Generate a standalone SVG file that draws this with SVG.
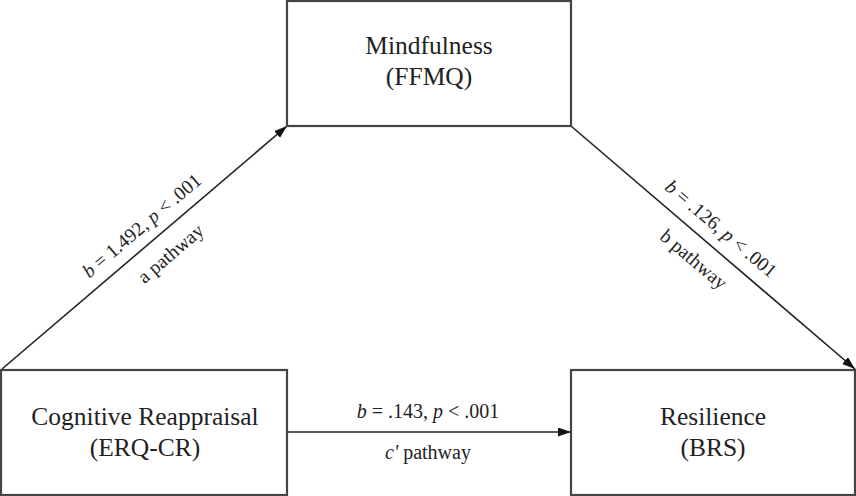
<svg xmlns="http://www.w3.org/2000/svg" width="856" height="496" viewBox="0 0 856 496">
<defs>
<marker id="ah" markerUnits="userSpaceOnUse" markerWidth="14" markerHeight="10" refX="13" refY="4.5" orient="auto">
<path d="M0,0 L13,4.5 L0,9 z" fill="#111"/>
</marker>
<style>
.box{fill:#fff;stroke:#444;stroke-width:2.2}
.lbl{font-family:"Liberation Serif","Times New Roman",serif;font-size:25.5px;fill:#222;text-anchor:middle}
.stat{font-family:"Liberation Serif","Times New Roman",serif;font-size:20px;fill:#222;text-anchor:middle}
.dstat{font-family:"Liberation Serif","Times New Roman",serif;font-size:19.5px;fill:#222;text-anchor:middle}
.con{stroke:#222;stroke-width:1.6;fill:none;marker-end:url(#ah)}
.i{font-style:italic}
</style>
</defs>
<rect width="856" height="496" fill="#fff"/>
<g id="connectors">
<line class="con" x1="2" y1="369" x2="287" y2="126"/>
<line class="con" x1="571" y1="126" x2="855" y2="369"/>
<line class="con" x1="287" y1="432" x2="571" y2="432"/>
</g>
<g id="mindfulness">
<rect class="box" x="287" y="1" width="284" height="125"/>
<text class="lbl" x="429" y="54">Mindfulness</text>
<text class="lbl" x="429" y="85">(FFMQ)</text>
</g>
<g id="cognitive-reappraisal">
<rect class="box" x="1" y="370" width="286" height="125"/>
<text class="lbl" x="145" y="425">Cognitive Reappraisal</text>
<text class="lbl" x="145" y="456">(ERQ-CR)</text>
</g>
<g id="resilience">
<rect class="box" x="571" y="370" width="284" height="125"/>
<text class="lbl" x="713" y="425">Resilience</text>
<text class="lbl" x="713" y="456">(BRS)</text>
</g>
<g id="labels">
<text class="stat" x="428" y="418"><tspan class="i">b</tspan> = .143, <tspan class="i">p</tspan> &lt; .001</text>
<text class="stat" x="428" y="459"><tspan class="i">c'</tspan> pathway</text>
<g transform="translate(144.5,247.5) rotate(-40.3)">
<text class="dstat" x="12" y="-12"><tspan class="i">b</tspan> = 1.492, <tspan class="i">p</tspan> &lt; .001</text>
<text class="dstat" x="16" y="28">a pathway</text>
</g>
<g transform="translate(713,247.5) rotate(40.3)">
<text class="dstat" x="-6" y="-13"><tspan class="i">b</tspan> = .126, <tspan class="i">p</tspan> &lt; .001</text>
<text class="dstat" x="-7" y="28">b pathway</text>
</g>
</g>
</svg>
